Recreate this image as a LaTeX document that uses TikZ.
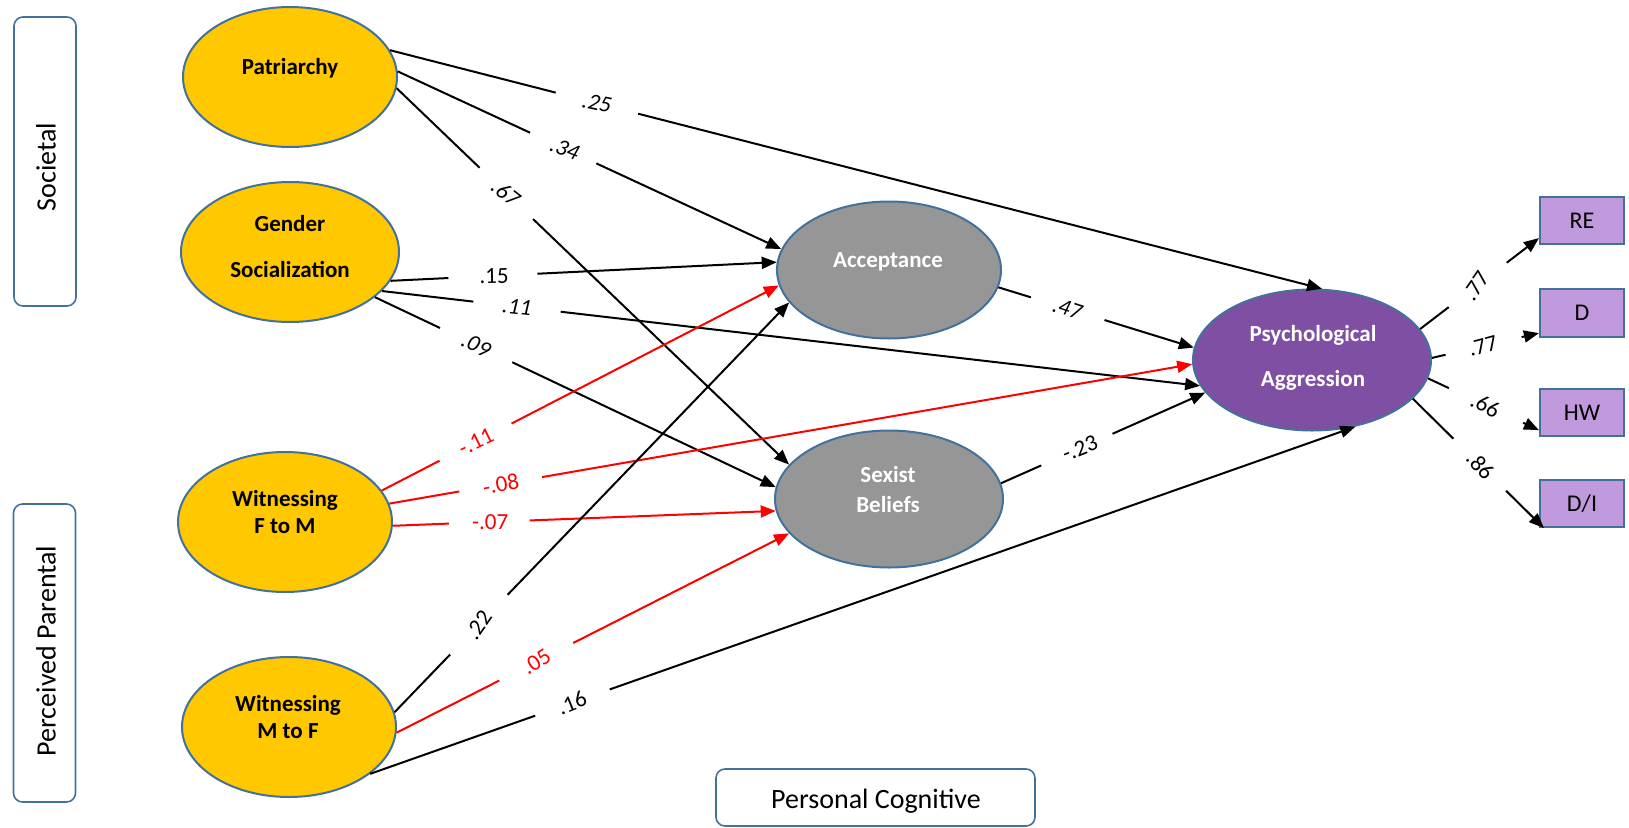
\documentclass[tikz,border=0pt]{standalone}
\usepackage{fontspec}
\setmainfont{Carlito}
\usetikzlibrary{arrows.meta,shapes.geometric}
\definecolor{ygold}{RGB}{255,200,0}
\definecolor{egray}{RGB}{150,150,150}
\definecolor{epurple}{RGB}{127,79,164}
\definecolor{blav}{RGB}{192,154,220}
\definecolor{eborder}{RGB}{65,113,156}
\definecolor{lred}{RGB}{255,0,0}
\begin{document}
\begin{tikzpicture}[x=1pt,y=-1pt,
  ell/.style={ellipse,draw=eborder,line width=2pt,inner sep=0pt},
  srcell/.style={ell,fill=ygold,minimum width=214pt,minimum height=140pt},
  midell/.style={ell,fill=egray,minimum width=226pt,minimum height=137pt},
  psyell/.style={ell,fill=epurple,minimum width=238pt,minimum height=141pt},
  etxt/.style={anchor=base,inner sep=0pt,font=\bfseries\fontsize{23}{23}\selectfont},
  wtxt/.style={etxt,text=white},
  grpbox/.style={draw=eborder,line width=1.6pt,rounded corners=9pt,inner sep=0pt},
  grptxt/.style={anchor=base,inner sep=0pt,font=\fontsize{28}{28}\selectfont},
  ibox/.style={draw=eborder,line width=2.2pt,fill=blav,minimum width=84pt,minimum height=47pt,inner sep=0pt,font=\fontsize{24}{24}\selectfont},
  conn/.style={line width=2pt,-{Triangle[length=15pt,width=12pt]}},
  rconn/.style={conn,draw=lred},
  gap/.style 2 args={dash pattern=on #1pt off #2pt on 3000pt},
  lbl/.style={inner sep=1pt,font=\fontsize{23}{23}\selectfont},
  rlbl/.style={lbl,text=lred}
]
\useasboundingbox (0,0) rectangle (1629,827);

% group boxes
\node[grpbox,minimum width=62pt,minimum height=289pt] (gsoc) at (45,161.5) {};
\node[grptxt,rotate=90] (tsoc) at (55.5,167) {Societal};
\node[grpbox,minimum width=62pt,minimum height=298pt] (gpar) at (44.5,653) {};
\node[grptxt,rotate=90] (tpar) at (55.5,651) {Perceived Parental};
\node[grpbox,minimum width=319pt,minimum height=57pt] (gcog) at (875.5,797.5) {};
\node[grptxt] (tcog) at (876,808) {Personal Cognitive};

% latent ellipses
\node[srcell] (pat) at (290,77) {};
\node[srcell,minimum width=218pt] (gen) at (290,252) {};
\node[srcell] (wfm) at (285,522) {};
\node[srcell] (wmf) at (289,727) {};
\node[midell,minimum width=224pt] (acc) at (889,270) {};
\node[midell,minimum width=228pt] (sex) at (889,499) {};
\node[psyell] (psy) at (1312,360) {};

\node[etxt] (tpat) at (290,74.5) {Patriarchy};
\node[etxt] (tgen1) at (290,231) {Gender};
\node[etxt] (tgen2) at (290,277) {Socialization};
\node[etxt] (twfm1) at (285,506) {Witnessing};
\node[etxt] (twfm2) at (285,533) {F to M};
\node[etxt] (twmf1) at (288,711) {Witnessing};
\node[etxt] (twmf2) at (288,738) {M to F};
\node[wtxt] (tacc) at (888,267) {Acceptance};
\node[wtxt] (tsex1) at (888,482) {Sexist};
\node[wtxt] (tsex2) at (888,512) {Beliefs};
\node[wtxt] (tpsy1) at (1313,341) {Psychological};
\node[wtxt] (tpsy2) at (1313,386) {Aggression};

% indicators
\node[ibox] (re) at (1582,220.5) {RE};
\node[ibox,minimum height=48pt] (d) at (1582,313) {D};
\node[ibox] (hw) at (1582,412.5) {HW};
\node[ibox] (di) at (1582,503.5) {D/I};

% paths (the gap in each line holds its coefficient)
\draw[conn,gap={171}{85}] (pat.15) -- node[lbl,pos=.222,rotate=-12]{\itshape .25} (psy.82);
\draw[conn,gap={146}{73}] (pat.3) -- node[lbl,pos=.436,rotate=-22]{\itshape .34} (acc.169);
\draw[conn,gap={115}{74}] (pat.-6) -- node[lbl,pos=.278,rotate=-38]{\itshape .67} (sex.161);
\draw[conn,gap={58}{89}] (gen.-16) -- node[lbl,pos=.268,rotate=1]{.15} (acc.176);
\draw[conn,gap={92}{88}] (gen.-23) -- node[lbl,pos=.165,rotate=-6]{\itshape .11} (psy.193);
\draw[conn,gap={72}{80}] (gen.-28) -- node[lbl,pos=.253,rotate=-26]{\itshape .09} (sex.174);
\draw[rconn,gap={65}{81}] (wfm.18) -- node[rlbl,pos=.237,rotate=26]{-.11} (acc.188);
\draw[rconn,gap={71}{84}] (wfm.10) -- node[rlbl,pos=.139,rotate=10]{-.08} (psy.182);
\draw[rconn,gap={56}{81}] (wfm.-2) -- node[rlbl,pos=.254,rotate=0]{-.07} (sex.186);
\draw[conn,gap={80}{83}] (wmf.8) -- node[lbl,pos=.213,rotate=55]{.22} (acc.198);
\draw[rconn,gap={115}{83}] (wmf.-3) -- node[rlbl,pos=.356,rotate=33]{.05} (sex.199);
\draw[conn,gap={175}{79}] (wmf.-30) -- node[lbl,pos=.205,rotate=22]{.16} (psy.-57.5);
\draw[conn,gap={34}{77}] (acc.-9) -- node[lbl,pos=.353,rotate=-18]{\itshape .47} (psy.174);
\draw[conn,gap={44}{78}] (sex.8) -- node[lbl,pos=.386,rotate=22]{-.23} (psy.197);
\draw[conn,gap={36}{73}] (psy.16) -- node[lbl,pos=.471,rotate=55]{.77} ([yshift=7pt]re.south west);
\draw[conn,gap={14}{78}] (psy.1) -- node[lbl,pos=.477,rotate=15]{.77} ([yshift=5pt]d.south west);
\draw[conn,gap={23}{82}] (psy.-9) -- node[lbl,pos=.518,rotate=-28]{.66} ([yshift=7pt]hw.south west);
\draw[conn,gap={57}{74}] (psy.-21) -- node[lbl,pos=.515,rotate=-48]{.86} ([xshift=5pt]di.south west);
\end{tikzpicture}
\end{document}
